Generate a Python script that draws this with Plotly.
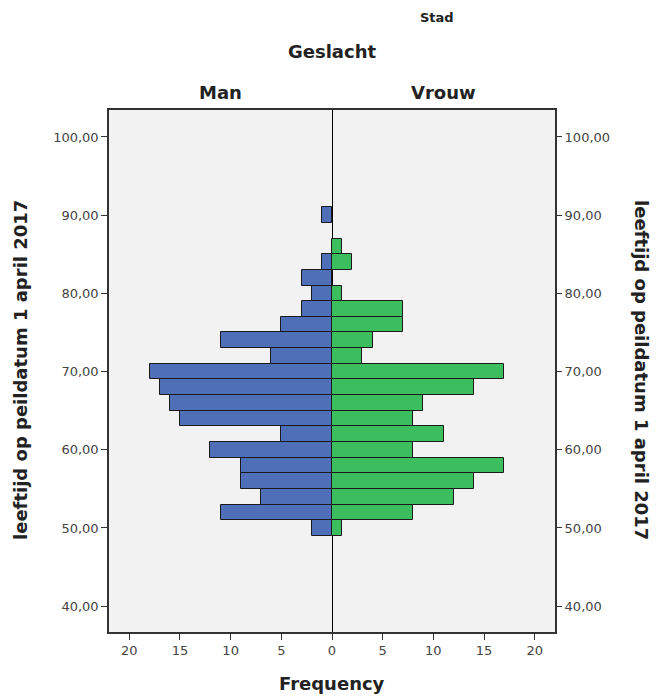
import plotly.graph_objects as go

ages = [50, 52, 54, 56, 58, 60, 62, 64, 66, 68, 70, 72, 74, 76, 78, 80, 82, 84, 86, 88, 90]
man = [2, 11, 7, 9, 9, 12, 5, 15, 16, 17, 18, 6, 11, 5, 3, 2, 3, 1, 0, 0, 1]
vrouw = [1, 8, 12, 14, 17, 8, 11, 8, 9, 14, 17, 3, 4, 7, 7, 1, 0, 2, 1, 0, 0]

x_ticks = [-20, -15, -10, -5, 0, 5, 10, 15, 20]
x_labels = ["20", "15", "10", "5", "0", "5", "10", "15", "20"]
y_ticks = [40, 50, 60, 70, 80, 90, 100]
y_labels = ["40,00", "50,00", "60,00", "70,00", "80,00", "90,00", "100,00"]

FONT = "DejaVu Sans"
line_col = "#1a1a1a"

O = 8  # page body margin offset
W, H = 659 - O, 700 - O
L, R, T, B = 109, 555, 110, 632
PW, PH = R - L, B - T


def px(xp):
    return (xp - L) / PW


def py(yp):
    return (B - yp) / PH


fig = go.Figure()
fig.add_trace(go.Bar(
    y=ages, x=[-v if v else None for v in man], orientation="h", width=2,
    marker=dict(color="#4F6FB9", line=dict(color=line_col, width=1)),
    name="Man", showlegend=False,
))
fig.add_trace(go.Bar(
    y=ages, x=[v if v else None for v in vrouw], orientation="h", width=2,
    marker=dict(color="#3CBE5E", line=dict(color=line_col, width=1)),
    name="Vrouw", showlegend=False,
))
fig.add_trace(go.Scatter(x=[0], y=[70], yaxis="y2", mode="markers",
                         marker=dict(opacity=0), showlegend=False, hoverinfo="skip"))

yr = [36.7, 103.45]
tf = dict(size=13, color="#444444", family="DejaVu Sans")
title_font = dict(size=18, color="#222222", family=FONT)


def ann(text, x, y, font=title_font, angle=0, xref="paper"):
    return dict(text=text, x=x, y=y, xref=xref, yref="paper", textangle=angle,
                showarrow=False, xanchor="center", yanchor="middle", font=font)


fig.update_layout(
    width=W, height=H,
    margin=dict(l=L - O, r=659 - R, t=T - O, b=700 - B, autoexpand=False),
    paper_bgcolor="white", plot_bgcolor="#F2F2F2",
    barmode="overlay", bargap=0,
    font=dict(family=FONT, color="#333333"),
    xaxis=dict(
        range=[-22.0, 22.0], tickvals=x_ticks, ticktext=x_labels, automargin=False,
        ticks="outside", ticklen=6, tickcolor="#333333", tickwidth=1,
        showgrid=False, zeroline=True, zerolinecolor="black", zerolinewidth=1.2,
        showline=True, linecolor="#333333", linewidth=1.5, mirror=True,
        tickfont=tf,
    ),
    yaxis=dict(
        range=yr, tickvals=y_ticks, ticktext=y_labels, automargin=False,
        ticks="outside", ticklen=6, tickcolor="#333333", tickwidth=1,
        showgrid=False, zeroline=False,
        showline=True, linecolor="#333333", linewidth=1.5, mirror=True,
        tickfont=tf,
    ),
    yaxis2=dict(
        range=yr, tickvals=y_ticks, ticktext=y_labels, overlaying="y", side="right",
        automargin=False,
        ticks="outside", ticklen=6, tickcolor="#333333", tickwidth=1,
        showgrid=False, zeroline=False, showline=False,
        tickfont=tf,
    ),
    annotations=[
        ann("<b>Stad</b>", px(437), py(17), font=dict(size=13, color="#222222", family=FONT)),
        ann("<b>Geslacht</b>", px(332), py(52)),
        ann("<b>Man</b>", -11, py(93), xref="x"),
        ann("<b>Vrouw</b>", 11, py(93), xref="x"),
        ann("<b>Frequency</b>", px(332), py(683)),
        ann("<b>leeftijd op peildatum 1 april 2017</b>", px(20), py(370), angle=-90),
        ann("<b>leeftijd op peildatum 1 april 2017</b>", px(642), py(370), angle=90),
    ],
)

fig.write_html("out.html")
